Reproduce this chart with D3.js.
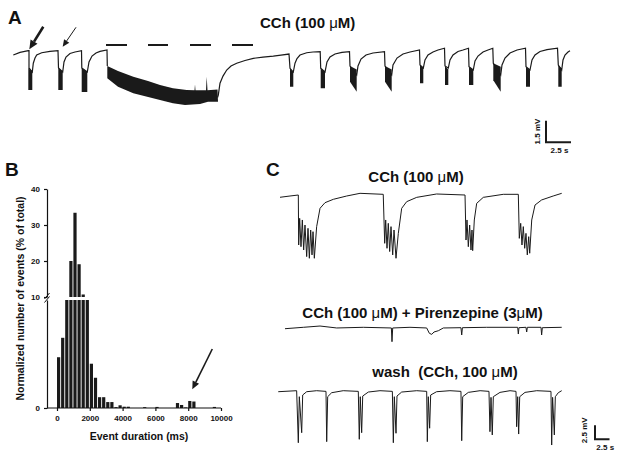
<!DOCTYPE html>
<html><head><meta charset="utf-8">
<script src="https://cdn.jsdelivr.net/npm/d3@7"></script>
<style>
body{margin:0;background:#fff}
text{font-family:"Liberation Sans",Arial,sans-serif;fill:#111;font-weight:bold}
</style>
</head><body>
<svg id="fig" width="624" height="460"></svg>
<script>
// ---------------- DATA ----------------
// Panel B histogram (250 ms bins), % of total
const histBinStart = d3.range(0, 10000, 250);
const histPercent = [4.7,6.5,10,20,33.4,19.1,10.7,10,4.1,2.8,1.0,1.0,0.55,0.55,0.08,0.25,0.12,0.12,0,0,
                     0,0.08,0,0,0.1,0,0,0,0,0.46,0.28,0.05,0.65,0.6,0,0,0,0,0.1,0];
const histTicksX = [0,2000,4000,6000,8000,10000];
const histTicksYLow = [0];
const histTicksYHigh = [10,20,30,40];
const histBreak = 10;

// Panel A trace: [time s, voltage mV]; null = gap
const traceA = [[0.03,-0.35],[0.7,-0.17],[1.53,-0.05],[1.6,-0.05],[1.6,-1.25],
[1.93,-1.53],[2.03,-0.92],[2.2,-0.56],[2.37,-0.35],[2.87,-0.19],[3.7,-0.10],[4.5,-0.05],[4.55,-1.25],
[4.97,-1.53],[5.1,-0.83],[5.3,-0.49],[5.7,-0.24],[6.2,-0.14],[6.85,-0.05],[6.88,-1.25],
[7.43,-1.53],[7.6,-0.83],[7.9,-0.42],[8.3,-0.21],[8.7,-0.10],[9.4,0],[9.43,-1.11],
null,
[20.45,-3.3],[20.53,-3.13],[20.7,-2.31],[21,-1.81],[21.37,-1.39],[21.8,-1.11],[22.37,-0.92],[23.2,-0.73],[24.03,-0.58],[25,-0.49],[26.03,-0.42],[26.8,-0.35],[27.6,-0.28],[27.7,-1.27],
[28.03,-1.53],[28.2,-0.92],[28.4,-0.59],[28.7,-0.35],[29.37,-0.19],[30,-0.14],[30.72,-0.12],[30.77,-1.27],
[31.2,-1.53],[31.4,-0.83],[31.7,-0.49],[32.2,-0.28],[32.9,-0.17],[33.65,-0.12],[33.7,-1.11],
[34.37,-1.74],[34.5,-1.11],[34.8,-0.63],[35.3,-0.35],[36,-0.21],[37.15,-0.12],[37.2,-1.11],
[37.87,-1.74],[38,-1.04],[38.4,-0.56],[39,-0.28],[39.7,-0.14],[40.65,0],[40.7,-1.04],
[41.03,-1.25],[41.2,-0.69],[41.5,-0.35],[42,-0.14],[42.5,0],[43.15,0.12],[43.2,-1.11],
[43.53,-1.25],[43.7,-0.69],[44,-0.35],[44.5,-0.10],[45,0],[45.55,0.12],[45.6,-1.16],
[46.03,-1.39],[46.2,-0.76],[46.5,-0.42],[47,-0.14],[47.5,0],[47.98,0.12],[48.03,-0.92],
[48.77,-1.74],[48.9,-1.04],[49.2,-0.56],[49.7,-0.21],[50.4,0],[51.25,0.12],[51.3,-1.16],
[51.7,-1.39],[51.9,-0.69],[52.2,-0.35],[52.7,-0.10],[53.4,0.03],[54.45,0.12],[54.53,-1.04],
[54.87,-1.39],[55,-0.69],[55.2,-0.35],[55.5,-0.14],[55.7,-0.05]];

// Panel A oscillation bursts: [t start, t end, top mV, bottom at start, bottom at end]
const burstsA = [[1.53,1.93,-1.25,-2.78,-2.78],[4.53,4.97,-1.25,-2.78,-2.78],[6.87,7.43,-1.25,-2.92,-2.92],
[27.7,28.03,-1.27,-2.55,-2.55],[30.77,31.2,-1.27,-2.66,-2.66],[33.7,34.37,-1.11,-2.2,-2.9],
[37.2,37.87,-1.11,-2.2,-2.9],[40.7,41.03,-1.04,-2.31,-2.31],[43.2,43.53,-1.11,-2.43,-2.43],
[45.6,46.03,-1.16,-2.43,-2.43],[48.03,48.77,-0.92,-2.1,-2.9],[51.3,51.7,-1.16,-2.55,-2.55],
[54.53,54.87,-1.04,-2.55,-2.55]];
// Long sustained burst envelope
const longBurstUpper = [[9.43,-1.11],[10.5,-1.45],[12.03,-1.85],[13.5,-2.15],[14.7,-2.43],[16,-2.65],[17.37,-2.78],
[18.15,-2.8],[18.2,-2.4],[18.25,-2.8],[19.3,-2.8],[19.37,-1.85],[19.45,-2.8],[20.45,-2.75]];
const longBurstLower = [[20.5,-3.59],[19.5,-3.6],[18.7,-3.75],[17.2,-3.82],[16,-3.7],[14.7,-3.47],[12.03,-3.01],[10.5,-2.55],[9.43,-1.97]];
const drugBarA = [[9.3,11.4],[13.5,15.5],[17.7,19.8],[21.9,24.0]];

// Panel C traces [time s, mV]
const traceC1 = [[0,-0.41],[1.72,-0.18],[3.16,0],[3.22,-8.93],[3.39,-4.17],[3.62,-9.23],[3.85,-4.46],[4.08,-9.82],
[4.31,-5.36],[4.6,-11.0],[4.83,-5.95],[5.06,-11.3],[5.29,-6.25],[5.52,-10.7],[5.69,-6.55],[5.92,-11.3],
[6.32,-5.65],[6.9,-2.38],[7.76,-1.37],[9.2,-0.77],[11.5,-0.18],[13.8,0.3],[17.8,0.12],
[18.05,-8.63],[18.22,-4.46],[18.45,-9.52],[18.67,-5.06],[18.91,-10.1],[19.14,-5.65],[19.43,-10.7],[19.66,-6.25],[20.0,-11.3],
[20.4,-6.85],[20.98,-2.38],[21.84,-1.19],[23.57,-0.42],[27.0,0.18],[31.9,0],
[32.07,-8.04],[32.24,-4.46],[32.47,-9.23],[32.7,-5.36],[32.93,-9.82],[33.1,-6.25],[33.22,-9.94],
[33.5,-4.46],[33.91,-1.49],[35.05,-0.42],[38.5,0.12],[41.09,0.12],
[41.26,-7.74],[41.5,-5.06],[41.72,-8.93],[41.95,-5.65],[42.19,-9.52],[42.41,-6.85],[42.64,-10.7],[42.88,-7.44],[43.05,-10.4],
[43.4,-4.46],[43.97,-1.79],[45.1,-0.89],[47.1,-0.18],[48.57,0.3]];
const traceC2 = [[0.86,-0.18],[4.02,0.07],[6.9,0.3],[9.78,-0.05],[14.36,0.07],[19.2,-0.05],[19.31,-2.5],[19.43,-0.05],
[22.41,0.07],[25.29,-0.05],[25.75,-1.0],[26.16,-1.19],[26.55,-0.77],[27.3,-0.54],[28.16,-0.05],[31.2,0],[31.33,-1.3],[31.45,0],
[35.64,0.07],[40.98,0.07],[41.09,-1.13],[41.2,0],[42.41,0.07],[42.53,-0.77],[42.65,0.07],[45.0,0.07],[45.11,-1.3],[45.23,0],[48.57,0.07]];
const traceC3 = [[-0.3,-0.18],[2.87,0],[3.16,-9.29],[3.33,-1.07],[3.74,-7.5],[3.91,-0.77],[4.6,-0.18],[6.32,0],
[7.93,-0.12],[8.05,-9.1],[8.22,-1.07],[8.91,-0.36],[10.9,0],
[13.5,-0.12],[13.67,-8.68],[13.84,-1.07],[14.08,-7.5],[14.26,-0.95],[15.23,-0.24],[17.24,0],
[19.37,-0.12],[19.54,-9.29],[19.71,-1.07],[20.0,-7.6],[20.17,-0.95],[20.98,-0.24],[23.57,0],
[25.29,-0.12],[25.4,-9.1],[25.57,-1.07],[25.8,-6.7],[25.98,-0.77],[27.0,-0.18],[29.3,0],
[31.2,-0.12],[31.33,-8.93],[31.5,-1.07],[32.47,-0.3],[34.5,0],
[36.03,-0.12],[36.2,-7.32],[36.38,-1.19],[36.6,-7.9],[36.78,-1.07],[37.93,-0.3],[39.66,0],
[40.69,-0.12],[40.8,-6.43],[40.98,-1.07],[41.15,-7.74],[41.33,-1.07],[42.24,-0.3],[44.26,0],
[46.72,-0.12],[46.84,-9.7],[47.0,-1.19],[47.3,-7.9],[47.47,-1.07],[47.98,-0.36],[48.57,0]];

const scaleBarA = {mV:1.5, s:2.5};
const scaleBarC = {mV:2.5, s:2.5};

// ---------------- DRAW ----------------
const svg = d3.select("#fig");
const ink = "#1a1a1a";

function label(x,y,txt,size,anchor){
  return svg.append("text").attr("x",x).attr("y",y).attr("font-size",size)
    .attr("text-anchor",anchor||"start").text(txt);
}
function muText(x,y,parts,size,anchor){
  const t = svg.append("text").attr("x",x).attr("y",y).attr("font-size",size)
    .attr("text-anchor",anchor||"middle").style("white-space","pre");
  parts.forEach(p=>{
    const s = t.append("tspan").text(p);
    if(p==="μ") s.attr("font-weight","normal");
  });
  return t;
}
function arrow(x1,y1,x2,y2,w,head){
  const a = Math.atan2(y2-y1,x2-x1);
  const bx = x2 - head*Math.cos(a), by = y2 - head*Math.sin(a);
  svg.append("line").attr("x1",x1).attr("y1",y1).attr("x2",bx).attr("y2",by)
    .attr("stroke",ink).attr("stroke-width",w);
  const hw = head*0.45;
  const px = -Math.sin(a)*hw, py = Math.cos(a)*hw;
  svg.append("path").attr("d",`M${x2},${y2}L${bx+px},${by+py}L${bx-px},${by-py}Z`).attr("fill",ink);
}

// Panel letters
label(8,23.5,"A",19);
label(5,175.5,"B",19);
label(266,176,"C",19);

// ---- Panel A ----
const xA = d3.scaleLinear().domain([0,56]).range([13,573]);
const yA = d3.scaleLinear().domain([0,-4]).range([50,107.6]);
const lineA = d3.line().defined(d=>d!==null).x(d=>xA(d[0])).y(d=>yA(d[1]));
const polyA = d3.line().x(d=>xA(d[0])).y(d=>yA(d[1]));

svg.append("path").attr("d",lineA(traceA)).attr("fill","none").attr("stroke",ink).attr("stroke-width",1.2);
burstsA.forEach(b=>{
  const pts = [[b[0],b[2]],[b[1],b[2]-0.25],[b[1],b[4]],[b[0],b[3]]];
  svg.append("path").attr("d",polyA(pts)+"Z").attr("fill",ink);
});
svg.append("path").attr("d",polyA(longBurstUpper.concat(longBurstLower))+"Z").attr("fill",ink);
drugBarA.forEach(s=>{
  svg.append("line").attr("x1",xA(s[0])).attr("x2",xA(s[1])).attr("y1",45).attr("y2",45)
    .attr("stroke",ink).attr("stroke-width",2);
});
muText(260,28,["CCh (100 ","μ","M)"],15,"start");
arrow(43.3,26.7,29.3,49.3,2.6,9);
arrow(76,27.3,62.7,46.7,1,7);

// scale bar A
{
  const x0 = 546, y0 = 142.3;
  const h = yA(-scaleBarA.mV) - yA(0), w = xA(scaleBarA.s) - xA(0);
  svg.append("path").attr("d",`M${x0},${y0-h}V${y0}H${x0+w}`).attr("fill","none").attr("stroke",ink).attr("stroke-width",2);
  svg.append("text").attr("transform",`translate(${x0-6},${y0-h/2}) rotate(-90)`).attr("text-anchor","middle")
    .attr("font-size",8).text("1.5 mV");
  label(x0+w/2+1,153,"2.5 s",8,"middle");
}

// ---- Panel B ----
const xB = d3.scaleLinear().domain([0,10000]).range([57,221]);
const yLow = d3.scaleLinear().domain([0,histBreak]).range([408,300]);
const yHigh = d3.scaleLinear().domain([histBreak,40]).range([297,189]);
const axX = 47;
const binW = 250;
const gB = svg.append("g");
histBinStart.forEach((s,i)=>{
  const v = histPercent[i]; if(!v) return;
  const x0 = xB(s), w = (xB(s+binW)-xB(s))*0.78;
  const lv = Math.min(v,histBreak);
  gB.append("rect").attr("x",x0).attr("width",w).attr("y",yLow(lv)).attr("height",yLow(0)-yLow(lv)).attr("fill",ink);
  if(v>histBreak){
    gB.append("rect").attr("x",x0).attr("width",w).attr("y",yHigh(v)).attr("height",yHigh(histBreak)-yHigh(v)).attr("fill",ink);
  }
});
function styleAxis(g){
  g.selectAll("text").attr("font-size",8).attr("font-weight","bold").attr("font-family","Liberation Sans, Arial, sans-serif").attr("fill","#111");
  g.selectAll("line,path").attr("stroke","#111").attr("stroke-width",1.2);
}
const gxa = svg.append("g").attr("transform",`translate(0,${yLow(0)})`)
  .call(d3.axisBottom(xB).tickValues(histTicksX).tickSize(3).tickPadding(4).tickFormat(d3.format("d")));
gxa.select(".domain").remove();
styleAxis(gxa);
svg.append("line").attr("x1",axX).attr("x2",xB(10000)).attr("y1",yLow(0)).attr("y2",yLow(0)).attr("stroke","#111").attr("stroke-width",1.2);
const gyl = svg.append("g").attr("transform",`translate(${axX},0)`)
  .call(d3.axisLeft(yLow).tickValues(histTicksYLow).tickSize(3).tickSizeOuter(0).tickPadding(4));
styleAxis(gyl);
const gyh = svg.append("g").attr("transform",`translate(${axX},0)`)
  .call(d3.axisLeft(yHigh).tickValues(histTicksYHigh).tickSize(3).tickSizeOuter(0).tickPadding(4));
styleAxis(gyh);
// break marks
[[0],[3.5]].forEach(o=>{
  svg.append("line").attr("x1",axX-2.5).attr("y1",yLow(histBreak)+1+o[0]-2).attr("x2",axX+2.5).attr("y2",yLow(histBreak)-5+o[0]-2)
    .attr("stroke","#111").attr("stroke-width",1);
});
svg.append("text").attr("transform",`translate(24,${(yHigh(40)+yLow(0))/2}) rotate(-90)`).attr("text-anchor","middle")
  .attr("font-size",10.5).text("Normalized number of events (% of total)");
label(139,440,"Event duration (ms)",10.5,"middle");
arrow(212.3,349,192.3,389.3,1.6,8);

// ---- Panel C ----
const xC = d3.scaleLinear().domain([0,50]).range([280,570]);
const mvC = 5.6;
function yC(base){ return d3.scaleLinear().domain([0,-10]).range([base,base+10*mvC]); }
const traces = [[traceC1,195],[traceC2,327.7],[traceC3,390.7]];
traces.forEach(([data,base])=>{
  const ys = yC(base);
  svg.append("path").attr("d",d3.line().x(d=>xC(d[0])).y(d=>ys(d[1]))(data))
    .attr("fill","none").attr("stroke",ink).attr("stroke-width",1).attr("stroke-linejoin","round");
});
muText(416,181.7,["CCh (100 ","μ","M)"],15,"middle");
muText(422.5,318.3,["CCh (100 ","μ","M) + Pirenzepine (3","μ","M)"],15,"middle");
muText(445,377.3,["wash  (CCh, 100 ","μ","M)"],15,"middle");
{
  const ys = yC(0);
  const x0 = 595, y0 = 439.3;
  const h = ys(-scaleBarC.mV)-ys(0), w = xC(scaleBarC.s)-xC(0);
  svg.append("path").attr("d",`M${x0},${y0-h}V${y0}H${x0+w}`).attr("fill","none").attr("stroke",ink).attr("stroke-width",2);
  svg.append("text").attr("transform",`translate(${x0-8},${y0-h/2-2}) rotate(-90)`).attr("text-anchor","middle")
    .attr("font-size",8).text("2.5 mV");
  label(x0+w/2+3,450,"2.5 s",8,"middle");
}
</script>
</body></html>
